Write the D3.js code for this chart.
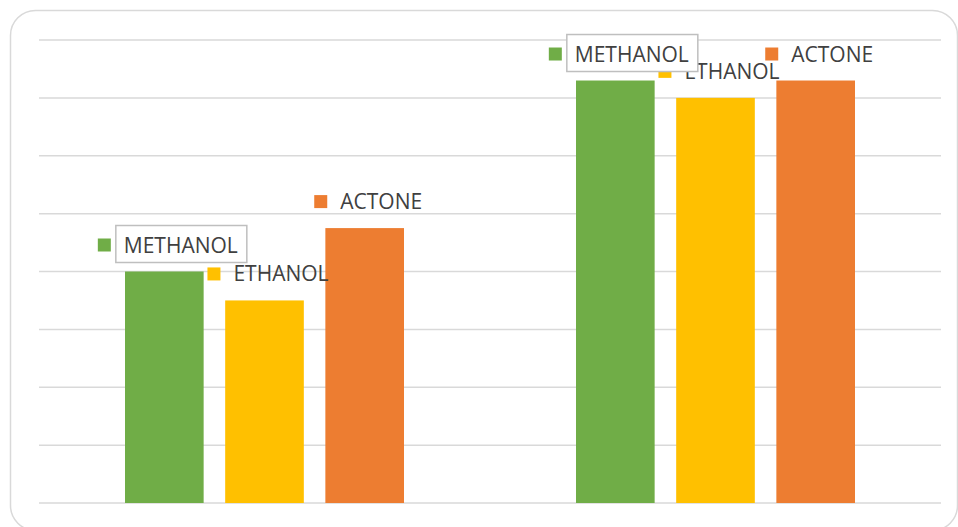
<!DOCTYPE html>
<html>
<head>
<meta charset="utf-8">
<script src="https://cdn.jsdelivr.net/npm/d3@7"></script>
<style>
  body { margin: 0; background: #fff; }
  svg { display: block; }
</style>
</head>
<body>
<script>
var width  = 958,
    height = 527;

// data (gridline units, axis labels are hidden)
var categories = ["Group 1", "Group 2"];
var series     = ["METHANOL", "ETHANOL", "ACTONE"];
var methanol   = [4.0, 7.3];
var ethanol    = [3.5, 7.0];
var actone     = [4.75, 7.3];
var gridTicks  = [0, 1, 2, 3, 4, 5, 6, 7, 8];

var colors = { METHANOL: "#70AD47", ETHANOL: "#FFC000", ACTONE: "#ED7D31" };
var valuesBySeries = { METHANOL: methanol, ETHANOL: ethanol, ACTONE: actone };

var rows = [];
categories.forEach(function(c, i) {
  series.forEach(function(s) {
    rows.push({ cat: c, series: s, value: valuesBySeries[s][i] });
  });
});

var svg = d3.select("body").append("svg")
    .attr("width", width)
    .attr("height", height);

// outer chart frame
svg.append("rect")
  .attr("x", 10.5).attr("y", 10.5)
  .attr("width", 947).attr("height", 520)
  .attr("rx", 25).attr("ry", 25)
  .attr("fill", "#fff")
  .attr("stroke", "#d9d9d9")
  .attr("stroke-width", 1.5);

var x0 = d3.scaleBand().domain(categories).range([39, 941]);
var x1 = d3.scaleBand().domain(series)
    .range([86, x0.bandwidth() - 86])
    .paddingInner(0.215);
var y = d3.scaleLinear().domain([0, 8]).range([503, 40]);

// gridlines
svg.append("g").selectAll("line")
  .data(gridTicks)
  .enter().append("line")
  .attr("x1", 39).attr("x2", 941)
  .attr("y1", function(d) { return y(d); })
  .attr("y2", function(d) { return y(d); })
  .attr("stroke", "#d9d9d9")
  .attr("stroke-width", 1.5);

// bars
svg.append("g").selectAll("rect")
  .data(rows)
  .enter().append("rect")
  .attr("x", function(d) { return x0(d.cat) + x1(d.series); })
  .attr("y", function(d) { return y(d.value); })
  .attr("width", x1.bandwidth())
  .attr("height", function(d) { return y(0) - y(d.value); })
  .attr("fill", function(d) { return colors[d.series]; });

// data labels with legend keys: ethanol + actone first, methanol (boxed) on top
var order = ["ETHANOL", "ACTONE", "METHANOL"];
var labelRows = [];
order.forEach(function(s) {
  rows.forEach(function(r) { if (r.series === s) labelRows.push(r); });
});

var labels = svg.append("g").selectAll("g")
  .data(labelRows)
  .enter().append("g");

labels.each(function(d) {
  var g = d3.select(this);
  var base = y(d.value) - 19;
  var cx = x0(d.cat) + x1(d.series) + x1.bandwidth() / 2 + 3.5;

  var box = g.append("rect");
  var key = g.append("rect");
  var txt = g.append("text")
    .attr("y", base)
    .attr("font-family", "'Open Sans', sans-serif")
    .attr("font-size", 21)
    .attr("fill", "#404040")
    .text(d.series);

  var tw = txt.node().getComputedTextLength();
  var left = cx - (13 + 13 + tw) / 2;

  key.attr("x", left).attr("y", base - 14)
    .attr("width", 13).attr("height", 13)
    .attr("fill", colors[d.series]);
  txt.attr("x", left + 26);

  if (d.series === "METHANOL") {
    box.attr("x", left + 18).attr("y", base - 27)
      .attr("width", tw + 17).attr("height", 37)
      .attr("fill", "#fff")
      .attr("stroke", "#bfbfbf")
      .attr("stroke-width", 1.5);
  } else {
    box.remove();
  }
});
</script>
</body>
</html>
